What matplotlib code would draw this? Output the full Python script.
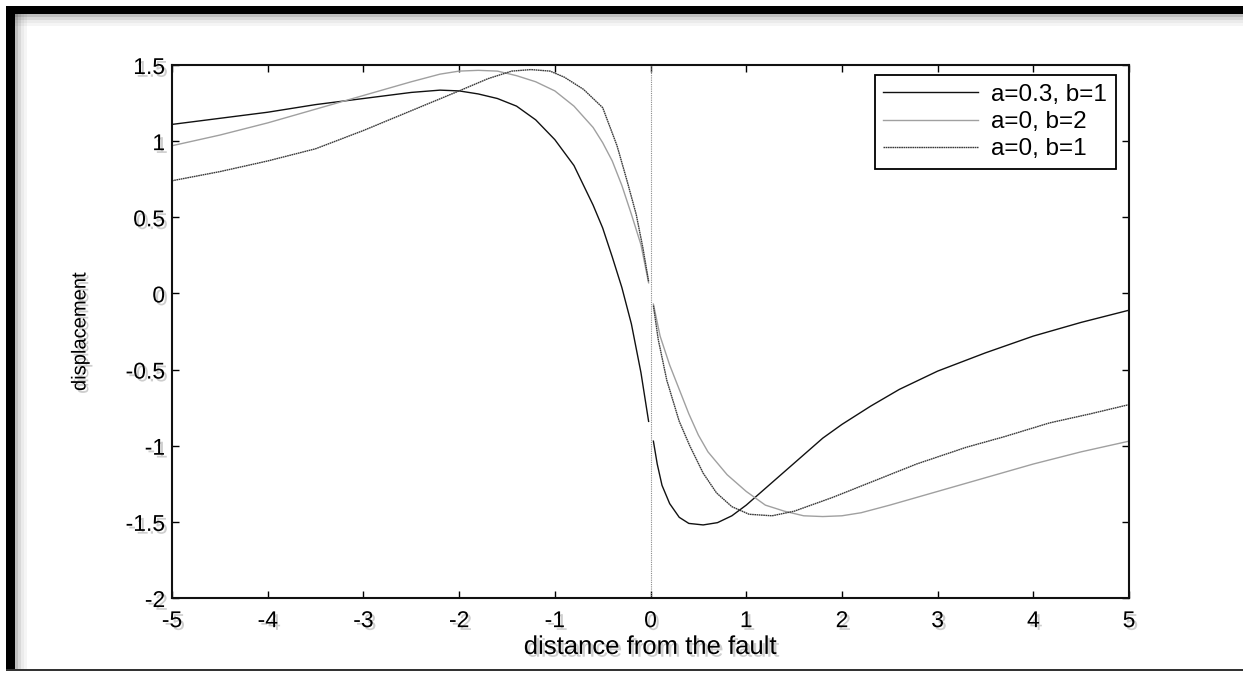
import numpy as np
import matplotlib
matplotlib.use("Agg")
import matplotlib.pyplot as plt
import matplotlib.patheffects as pe
from matplotlib.patches import Rectangle

plt.rcParams["font.family"] = ["Liberation Sans", "DejaVu Sans"]
plt.rcParams["axes.unicode_minus"] = False

# --------------------------------------------------
# Curves (left / right of the fault)
# --------------------------------------------------

# a=0.3, b=1
x_a03_left = [-5, -4.5, -4, -3.5, -3, -2.5, -2.2, -2.0, -1.8, -1.6, -1.4,
              -1.2, -1.0, -0.8, -0.6, -0.5, -0.4, -0.3, -0.2, -0.1, -0.02]
y_a03_left = [1.11, 1.15, 1.19, 1.24, 1.28, 1.32, 1.335, 1.33, 1.31, 1.28, 1.23,
              1.14, 1.01, 0.84, 0.58, 0.43, 0.24, 0.04, -0.20, -0.52, -0.84]
x_a03_right = [0.03, 0.07, 0.12, 0.2, 0.3, 0.4, 0.55, 0.7, 0.85, 1.0, 1.2, 1.4,
               1.6, 1.8, 2.0, 2.3, 2.6, 3.0, 3.5, 4.0, 4.5, 5.0]
y_a03_right = [-0.97, -1.12, -1.26, -1.38, -1.47, -1.51, -1.52, -1.505, -1.46, -1.39, -1.28, -1.17,
               -1.06, -0.95, -0.86, -0.74, -0.63, -0.51, -0.39, -0.28, -0.19, -0.11]

# a=0, b=2
x_b2_left = [-5, -4.5, -4, -3.5, -3, -2.5, -2.2, -2.0, -1.8, -1.6, -1.4,
             -1.2, -1.0, -0.8, -0.6, -0.5, -0.4, -0.3, -0.2, -0.1, -0.02]
y_b2_left = [0.97, 1.04, 1.12, 1.21, 1.30, 1.39, 1.44, 1.46, 1.465, 1.46, 1.43,
             1.39, 1.33, 1.23, 1.09, 0.99, 0.87, 0.71, 0.52, 0.32, 0.07]
x_b2_right = [0.03, 0.1, 0.2, 0.3, 0.4, 0.5, 0.6, 0.8, 1.0, 1.2, 1.4, 1.6,
              1.8, 2.0, 2.2, 2.5, 3.0, 3.5, 4.0, 4.5, 5.0]
y_b2_right = [-0.07, -0.28, -0.47, -0.63, -0.79, -0.93, -1.04, -1.19, -1.30, -1.39, -1.43, -1.46,
              -1.465, -1.46, -1.44, -1.39, -1.30, -1.21, -1.12, -1.04, -0.97]

# a=0, b=1
x_b1_left = [-5, -4.5, -4, -3.5, -3, -2.5, -2.0, -1.7, -1.45, -1.25, -1.05,
             -0.9, -0.7, -0.5, -0.35, -0.25, -0.15, -0.08, -0.02]
y_b1_left = [0.74, 0.80, 0.87, 0.95, 1.07, 1.20, 1.33, 1.41, 1.46, 1.47, 1.46,
             1.42, 1.34, 1.22, 0.97, 0.75, 0.52, 0.30, 0.08]
x_b1_right = [0.03, 0.08, 0.17, 0.3, 0.41, 0.55, 0.69, 0.85, 1.03, 1.27, 1.5,
              1.9, 2.3, 2.78, 3.3, 3.7, 4.17, 4.6, 5.0]
y_b1_right = [-0.08, -0.30, -0.57, -0.84, -1.00, -1.18, -1.31, -1.40, -1.45, -1.46, -1.43,
              -1.34, -1.24, -1.12, -1.01, -0.94, -0.85, -0.79, -0.73]

labels = ["a=0.3, b=1", "a=0, b=2", "a=0, b=1"]
x_ticks = [-5, -4, -3, -2, -1, 0, 1, 2, 3, 4, 5]
y_ticks = [-2, -1.5, -1, -0.5, 0, 0.5, 1, 1.5]


def join(xl, yl, xr, yr):
    # break the line at the fault
    return (np.r_[xl, np.nan, xr], np.r_[yl, np.nan, yr])


# --------------------------------------------------
# Plot
# --------------------------------------------------

fig = plt.figure(figsize=(12.43, 6.73), dpi=100)
ax = fig.add_axes([0.1384, 0.1114, 0.7699, 0.792])

shadow = [pe.withSimplePatchShadow(offset=(2, -2), shadow_rgbFace="0.45", alpha=0.35)]

x, y = join(x_a03_left, y_a03_left, x_a03_right, y_a03_right)
ax.plot(x, y, color="#111111", lw=1.0, label=labels[0])
x, y = join(x_b2_left, y_b2_left, x_b2_right, y_b2_right)
ax.plot(x, y, color="#a0a0a0", lw=1.0, label=labels[1])
x, y = join(x_b1_left, y_b1_left, x_b1_right, y_b1_right)
ax.plot(x, y, color="#3a3a3a", lw=1.0, ls=(0, (1.2, 0.4)), label=labels[2])

ax.axvline(0, color="#8a8a8a", lw=0.8, ls=(0, (1, 1)))

ax.set_xlim(-5, 5)
ax.set_ylim(-2, 1.5)
ax.set_xticks(x_ticks)
ax.set_yticks(y_ticks)
ax.set_xticklabels([f"{v:g}" for v in x_ticks])
ax.set_yticklabels([f"{v:g}" for v in y_ticks])
ax.tick_params(direction="in", length=5, width=1, top=True, right=True,
               labelsize=16.5, color="black")
ax.tick_params(axis="x", pad=8)
ax.tick_params(axis="y", pad=5)

for sp in ax.spines.values():
    sp.set_linewidth(1.5)
    sp.set_color("#111111")
for side in ["right", "bottom"]:
    ax.spines[side].set_path_effects(
        [pe.withSimplePatchShadow(offset=(3, -3), shadow_rgbFace="0.5", alpha=0.35)])

ax.set_xlabel("distance from the fault", fontsize=18.5, labelpad=2)
ax.set_ylabel("displacement", fontsize=14.5, labelpad=26)
ax.xaxis.label.set_path_effects(shadow)
ax.yaxis.label.set_path_effects(shadow)
for lbl in ax.get_xticklabels() + ax.get_yticklabels():
    lbl.set_path_effects(shadow)

leg = ax.legend(loc="upper right", bbox_to_anchor=(0.986, 0.981), borderaxespad=0,
                fontsize=17.5, handlelength=3.9, handletextpad=0.55, labelspacing=0.22,
                fancybox=False, framealpha=1, edgecolor="black", borderpad=0.35)
leg.get_frame().set_linewidth(1.3)

# page frame with shadows
W, H = 1243, 673


def frame_rect(x0, y0, w, h, **kw):
    fig.add_artist(Rectangle((x0 / W, 1 - (y0 + h) / H), w / W, h / H,
                             transform=fig.transFigure, lw=0, **kw))


for i, a in enumerate([0.25, 0.15, 0.08, 0.04]):
    frame_rect(15, 14 + 3 * i, W - 15, 3, color="black", alpha=a)
    frame_rect(15 + 3 * i, 14, 3, 656, color="black", alpha=a)
frame_rect(6, 6, W - 6, 8, color="black")
frame_rect(6, 6, 9, 665, color="black")
frame_rect(6, 669, W - 6, 2, color="#333333")

fig.savefig("out.png", dpi=100)
